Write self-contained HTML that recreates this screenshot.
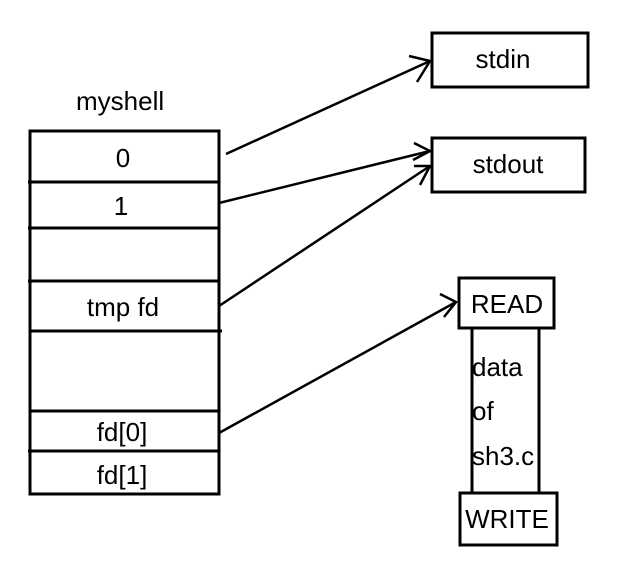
<!DOCTYPE html>
<html><head><style>
body{margin:0;background:#fff;}
svg text{font-family:"Liberation Sans","DejaVu Sans",sans-serif;font-size:26px;fill:#000;}
</style></head><body>
<svg width="622" height="583" viewBox="0 0 622 583" xmlns="http://www.w3.org/2000/svg">
<g fill="none" stroke="#000" stroke-width="3">
<rect x="30" y="131" width="189" height="363"/>
<line x1="28" y1="182" x2="220" y2="182"/>
<line x1="28" y1="228" x2="220" y2="228"/>
<line x1="28" y1="281" x2="220" y2="281"/>
<line x1="30" y1="331" x2="222" y2="331"/>
<line x1="30" y1="411" x2="220" y2="411"/>
<line x1="28" y1="451" x2="220" y2="451"/>
<rect x="432" y="33" width="156" height="54"/>
<rect x="432" y="138" width="153" height="54"/>
<rect x="459" y="278" width="95" height="50"/>
<rect x="472" y="328" width="67" height="165"/>
<rect x="460" y="493" width="97" height="52"/>
<g stroke-width="2.5">
<line x1="226" y1="154" x2="430" y2="61"/>
<polyline points="409,56 430,61 417,82"/>
<line x1="219" y1="203" x2="430" y2="151"/>
<polyline points="414,143 430,151 413,160"/>
<line x1="219" y1="306" x2="430" y2="166"/>
<polyline points="414,166 430,166 420,185"/>
<line x1="219" y1="433" x2="456" y2="302"/>
<polyline points="440,294 456,302 444,317"/>
</g>
</g>
<text x="76" y="110">myshell</text>
<text x="123" y="167" text-anchor="middle">0</text>
<text x="121" y="215" text-anchor="middle">1</text>
<text x="123" y="316" text-anchor="middle">tmp fd</text>
<text x="122" y="441" text-anchor="middle">fd[0]</text>
<text x="122" y="484" text-anchor="middle">fd[1]</text>
<text x="503" y="68" text-anchor="middle">stdin</text>
<text x="508" y="173" text-anchor="middle">stdout</text>
<text x="507" y="313" text-anchor="middle">READ</text>
<text x="472" y="376">data</text>
<text x="472" y="420">of</text>
<text x="472" y="465">sh3.c</text>
<text x="507" y="528" text-anchor="middle">WRITE</text>
</svg>
</body></html>
